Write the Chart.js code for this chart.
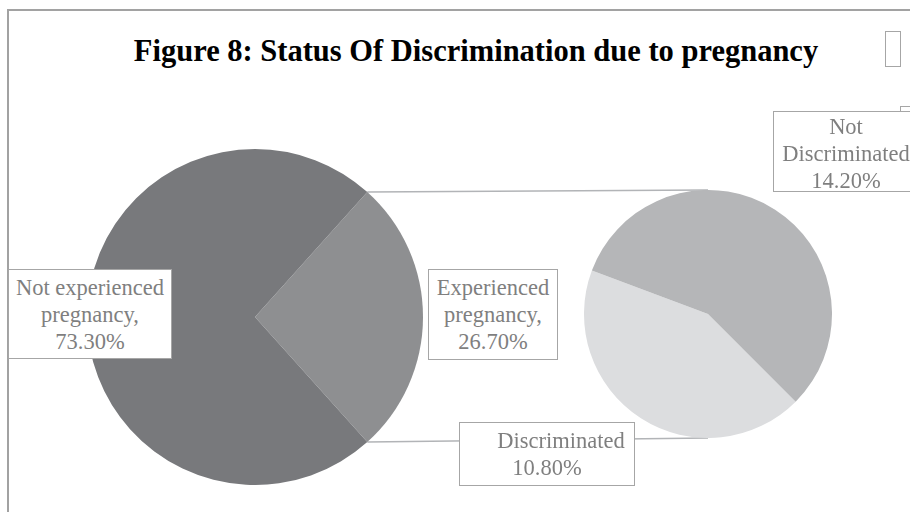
<!DOCTYPE html>
<html>
<head>
<meta charset="utf-8">
<script src="https://cdn.jsdelivr.net/npm/chart.js"></script>
<style>
  body { margin: 0; background: #fff; overflow: hidden; }
  #wrap { position: relative; width: 910px; height: 512px; overflow: hidden; background: #fff; }
  #frame { position: absolute; left: 7px; top: 9px; width: 1000px; height: 1000px; border: 2px solid #a2a2a2; }
  #title { position: absolute; left: 0; width: 952px; top: 34px; text-align: center; line-height: 30px;
           font: bold 30.5px "Liberation Serif", "Times New Roman", serif; color: #000; }
  canvas { position: absolute; }
  .lbl { position: absolute; background: #fff; border: 1.5px solid #a6a6a6; box-sizing: border-box;
         font: 22.5px "Liberation Serif", "Times New Roman", serif; color: #7f7f7f;
         text-align: center; line-height: 27px; }
  .lbl div { position: relative; }
</style>
</head>
<body>
<div id="wrap">
  <div id="frame"></div>
  <div id="title">Figure 8: Status Of Discrimination due to pregnancy</div>
  <div class="lbl" style="left:885px;top:31px;width:16px;height:36px;"></div>
  <div class="lbl" style="left:900px;top:106px;width:30px;height:20px;"></div>
  <canvas id="links" width="910" height="512" style="left:0;top:0;"></canvas>
  <canvas id="mainPie" width="336" height="336" style="left:87px;top:149px;"></canvas>
  <canvas id="subPie" width="248" height="248" style="left:584px;top:190px;"></canvas>
  <div class="lbl" id="lblNotExp" style="left:8px;top:269px;width:164px;height:90px;padding-top:4px;"></div>
  <div class="lbl" id="lblExp" style="left:428px;top:269px;width:130px;height:91px;padding-top:4px;"></div>
  <div class="lbl" id="lblNotDisc" style="left:773px;top:111px;width:146px;height:81px;padding-top:1px;"></div>
  <div class="lbl" id="lblDisc" style="left:459px;top:422px;width:176px;height:64px;padding-top:4px;"></div>
</div>
<script>
// pregnancy split (main pie)
const mainLabels = ["Experienced pregnancy", "Not experienced pregnancy"];
const mainValues = [26.7, 73.3];
const mainColors = ["#8e8f91", "#78797c"];

// discrimination split of the experienced group (secondary pie)
const subLabels = ["Discriminated", "Not Discriminated"];
const subValues = [10.8, 14.2];
const subColors = ["#dcdddf", "#b5b6b8"];

const pct = v => v.toFixed(2) + "%";

function pieOptions(rotation) {
    return {
        responsive: false,
        animation: false,
        devicePixelRatio: 1,
        rotation: rotation,
        layout: { padding: 0 },
        events: [],
        plugins: { legend: { display: false }, tooltip: { enabled: false } }
    };
}

// experienced slice is centred on the right-hand side, facing the small pie
const mainTotal = mainValues.reduce((a, b) => a + b, 0);
const mainRotation = 90 - mainValues[0] / mainTotal * 180;

const mainChart = new Chart(document.getElementById("mainPie"), {
    type: "pie",
    data: {
        labels: mainLabels,
        datasets: [{ data: mainValues, backgroundColor: mainColors, borderWidth: 0 }]
    },
    options: pieOptions(mainRotation)
});

const subChart = new Chart(document.getElementById("subPie"), {
    type: "pie",
    data: {
        labels: subLabels,
        datasets: [{ data: subValues, backgroundColor: subColors, borderWidth: 0 }]
    },
    options: pieOptions(135)
});

// connector lines from the experienced slice edges to the small pie
function drawLinks() {
    const ctx = document.getElementById("links").getContext("2d");
    const mainCanvas = document.getElementById("mainPie");
    const subCanvas = document.getElementById("subPie");
    const arc = mainChart.getDatasetMeta(0).data[0];
    const sub = subChart.getDatasetMeta(0).data[0];
    const mx = mainCanvas.offsetLeft, my = mainCanvas.offsetTop;
    const sx = subCanvas.offsetLeft + sub.x, sy = subCanvas.offsetTop + sub.y;
    const r = arc.outerRadius, sr = sub.outerRadius;
    const p1 = [mx + arc.x + r * Math.cos(arc.startAngle), my + arc.y + r * Math.sin(arc.startAngle)];
    const p2 = [mx + arc.x + r * Math.cos(arc.endAngle), my + arc.y + r * Math.sin(arc.endAngle)];
    ctx.strokeStyle = "#b2b4b7";
    ctx.lineWidth = 1.5;
    ctx.beginPath();
    ctx.moveTo(p1[0], p1[1]);
    ctx.lineTo(sx, sy - sr);
    ctx.moveTo(p2[0], p2[1]);
    ctx.lineTo(sx, sy + sr);
    ctx.stroke();
}
drawLinks();

// data label boxes
function setLines(id, lines) {
    document.getElementById(id).innerHTML = lines.map(l => "<div>" + l + "</div>").join("");
}
setLines("lblNotExp", ["Not experienced", "pregnancy,", pct(mainValues[1])]);
setLines("lblExp", ["Experienced", "pregnancy,", pct(mainValues[0])]);
setLines("lblNotDisc", ["Not", "Discriminated", pct(subValues[1])]);
setLines("lblDisc", [subLabels[0], pct(subValues[0])]);
const discLines = document.querySelectorAll("#lblDisc div");
discLines[0].style.left = "14px";
discLines[1].style.left = "0px";
</script>
</body>
</html>
